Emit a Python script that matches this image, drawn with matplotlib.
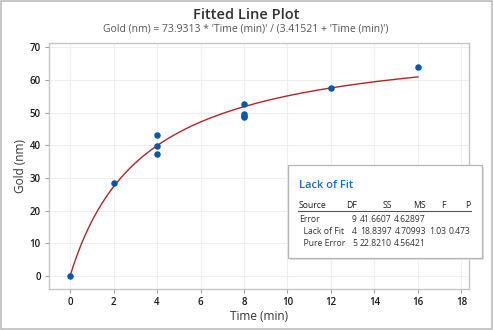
import matplotlib
matplotlib.use("Agg")
import matplotlib.pyplot as plt
import numpy as np
from matplotlib.patches import Rectangle

plt.rcParams["font.family"] = ["Open Sans", "DejaVu Sans"]

# observations
time_min = [0, 2, 4, 4, 4, 8, 8, 8, 8, 12, 16]
gold_nm = [0.0, 28.3, 43.0, 39.9, 37.4, 52.5, 49.5, 48.9, 48.6, 57.5, 63.9]

# fitted model: Gold = a * t / (b + t)
a_coef = 73.9313
b_coef = 3.41521

# lack of fit table
lof_cols = ["Source", "DF", "SS", "MS", "F", "P"]
lof_rows = [
    ["Error", "9", "41.6607", "4.62897", "", ""],
    ["  Lack of Fit", "4", "18.8397", "4.70993", "1.03", "0.473"],
    ["  Pure Error", "5", "22.8210", "4.56421", "", ""],
]

W, H = 493, 330
fig = plt.figure(figsize=(W / 100, H / 100), dpi=100)

def px(x, y):
    """pixel position (from top left) to figure fraction"""
    return x / W, 1 - y / H

# outer frame
fig.add_artist(Rectangle((0.002, 0.003), 0.996, 0.994, transform=fig.transFigure,
                         fill=False, edgecolor="#bdbdbd", linewidth=1.2))

ax = fig.add_axes([49 / W, (H - 289) / H, (469 - 49) / W, (289 - 43) / H])

t_fit = np.linspace(0, 16, 300)
ax.plot(t_fit, a_coef * t_fit / (b_coef + t_fit), color="#a8282b", linewidth=1.0, zorder=2)
ax.scatter(time_min, gold_nm, s=22, color="#0a56a8", zorder=3, linewidths=0)

ax.set_xlim(-0.97, 18.35)
ax.set_ylim(-4.0, 71.3)
ax.set_xticks(range(0, 19, 2))
ax.set_yticks(range(0, 71, 10))
ax.grid(True, color="#efefef", linewidth=0.8)
ax.set_axisbelow(True)
for s in ax.spines.values():
    s.set_color("#c4c4c4")
    s.set_linewidth(1.0)
ax.tick_params(length=3, width=0.8, color="#a0a0a0", labelsize=7, labelcolor="#1a1a1a", pad=3)
for lab in ax.get_xticklabels() + ax.get_yticklabels():
    lab.set_fontweight("semibold")
ax.set_xlabel("Time (min)", fontsize=8.5, color="#333333", labelpad=1)
ax.set_ylabel("Gold (nm)", fontsize=8.5, color="#333333", labelpad=2)

fig.text(*px(246, 15), "Fitted Line Plot", ha="center", va="center",
         fontsize=10.5, fontweight="semibold", color="#303030")
fig.text(*px(246, 29), "Gold (nm) = 73.9313 * 'Time (min)' / (3.41521 + 'Time (min)')",
         ha="center", va="center", fontsize=7.5, color="#555555")

# lack of fit panel
x0, y0 = px(288, 258)
x1, y1 = px(482, 165)
fig.add_artist(Rectangle((x0 + 2 / W, y0 - 2 / H), x1 - x0, y1 - y0, transform=fig.transFigure,
                         facecolor="#e2e2e2", edgecolor="none", zorder=4))
fig.add_artist(Rectangle((x0, y0), x1 - x0, y1 - y0, transform=fig.transFigure,
                         facecolor="white", edgecolor="#b5b5b5", linewidth=0.9, zorder=5))
fig.text(*px(299, 186), "Lack of Fit", ha="left", va="center", fontsize=8,
         fontweight="semibold", color="#1b6cb5", zorder=6)

col_x = [299, 357, 392, 426, 446, 470]
col_ha = ["left", "right", "right", "right", "right", "right"]
for cx, ha, txt in zip(col_x, col_ha, lof_cols):
    fig.text(*px(cx, 205), txt, ha=ha, va="center", fontsize=6.2, color="#1a1a1a", zorder=6)
xa, ya = px(298, 211)
xb, _ = px(471, 211)
fig.add_artist(plt.Line2D([xa, xb], [ya, ya], transform=fig.transFigure,
                          color="#555555", linewidth=0.8, zorder=6))
for i, row in enumerate(lof_rows):
    ry = 219 + i * 12.5
    for cx, ha, txt in zip(col_x, col_ha, row):
        if txt:
            fig.text(*px(cx, ry), txt, ha=ha, va="center", fontsize=6.2, color="#333333", zorder=6)

fig.savefig("out.png", dpi=100)
